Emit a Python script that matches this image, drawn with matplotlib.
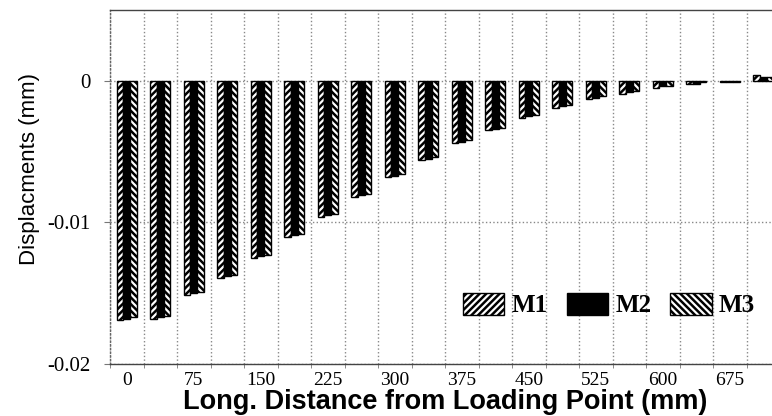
import matplotlib
matplotlib.use('Agg')
import matplotlib.pyplot as plt
import numpy as np
from matplotlib.ticker import FixedLocator

# ---- data ----
distance = [0, 37.5, 75, 112.5, 150, 187.5, 225, 262.5, 300, 337.5,
            375, 412.5, 450, 487.5, 525, 562.5, 600, 637.5, 675, 712.5]
m1 = [-0.0169, -0.0168, -0.0151, -0.0139, -0.0125, -0.0110, -0.0096, -0.0082, -0.0068, -0.0056,
      -0.0044, -0.0035, -0.0026, -0.0019, -0.0013, -0.0009, -0.0005, -0.0002, -0.00008, 0.0004]
m2 = [-0.0168, -0.0167, -0.0150, -0.0138, -0.0124, -0.0109, -0.0095, -0.0081, -0.0067, -0.0055,
      -0.0043, -0.0034, -0.0025, -0.0018, -0.0012, -0.0008, -0.0004, -0.0002, -0.00008, 0.0003]
m3 = [-0.0167, -0.0166, -0.0149, -0.0137, -0.0123, -0.0108, -0.0094, -0.0080, -0.0066, -0.0054,
      -0.0042, -0.0033, -0.0024, -0.0017, -0.0011, -0.0007, -0.0004, -0.0001, -0.00005, 0.0003]
series_names = ['M1', 'M2', 'M3']
x_tick_values = [0, 75, 150, 225, 300, 375, 450, 525, 600, 675]
x_tick_labels = ['0', '75', '150', '225', '300', '375', '450', '525', '600', '675']
y_tick_values = [0, -0.01, -0.02]
y_tick_labels = ['0', '-0.01', '-0.02']

plt.rcParams['hatch.linewidth'] = 1.8
plt.rcParams['hatch.color'] = 'black'

fig = plt.figure(figsize=(7.72, 4.16), dpi=100)
ax = fig.add_axes([110 / 772, 52 / 416, 670 / 772, 354 / 416])

step = distance[1] - distance[0]
w = step / 5
x = np.array(distance)
ax.bar(x - w, m1, w, facecolor='white', edgecolor='black', hatch='/////',
       linewidth=1.0, label=series_names[0], zorder=3)
ax.bar(x, m2, w, facecolor='black', edgecolor='black',
       linewidth=1.0, label=series_names[1], zorder=3)
ax.bar(x + w, m3, w, facecolor='white', edgecolor='black', hatch='\\\\\\\\\\',
       linewidth=1.0, label=series_names[2], zorder=3)

ax.set_xlim(distance[0] - step / 2, distance[-1] + step / 2)
ax.set_ylim(-0.02, 0.005)

serif = 'Liberation Serif'
sans = 'Liberation Sans'

ax.set_xticks(x_tick_values)
ax.set_xticklabels(x_tick_labels, fontfamily=serif, fontsize=14)
boundaries = [d - step / 2 for d in distance] + [distance[-1] + step / 2]
ax.xaxis.set_minor_locator(FixedLocator(boundaries))
ax.set_yticks(y_tick_values)
ax.set_yticklabels(y_tick_labels, fontfamily=serif, fontsize=15)

ax.tick_params(axis='x', which='major', length=0, pad=6)
ax.tick_params(axis='x', which='minor', length=3, direction='out', color='#777777')
ax.tick_params(axis='y', which='major', length=4, direction='out', color='#777777', pad=10)

ax.grid(True, axis='x', which='minor', linestyle=':', color='#888888', linewidth=1.0, zorder=1)
ax.grid(True, axis='y', which='major', linestyle=':', color='#888888', linewidth=1.0, zorder=1)
ax.grid(False, axis='x', which='major')

for side in ['left', 'bottom', 'top']:
    ax.spines[side].set_color('#444444')
    ax.spines[side].set_linewidth(1.0)
ax.spines['right'].set_visible(False)
ax.spines['left'].set_linestyle(':')
ax.spines['left'].set_color('#666666')

ax.set_xlabel('Long. Distance from Loading Point (mm)', fontfamily=sans,
              fontweight='bold', fontsize=19.5, labelpad=0)
ax.set_ylabel('Displacments (mm)', fontfamily=sans, fontsize=16)
ax.yaxis.set_label_coords(-0.1045, 0.55)

leg = ax.legend(loc='center right', bbox_to_anchor=(0.963, 0.167), ncol=3,
                frameon=False, borderaxespad=0, borderpad=0,
                handlelength=1.65, handleheight=1.0, handletextpad=0.3,
                columnspacing=0.75,
                prop={'family': serif, 'weight': 'bold', 'size': 18})

fig.savefig('out.png', dpi=100)
